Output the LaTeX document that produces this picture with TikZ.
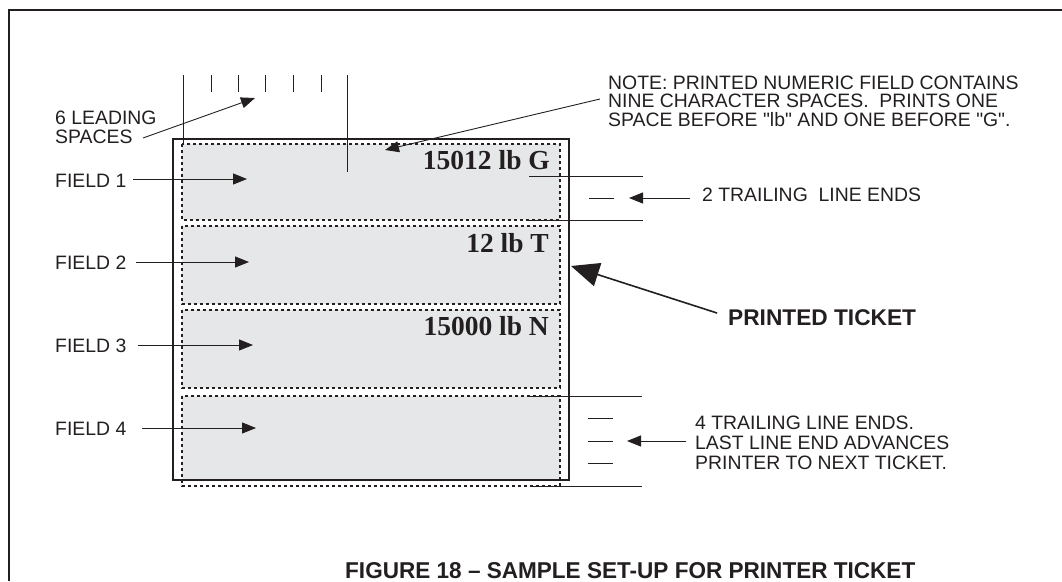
\documentclass[tikz,border=0pt]{standalone}
\usepackage{fontspec}
\usepackage{graphicx}
\setmainfont{Liberation Sans}
\newfontfamily\numfont{Liberation Serif}
\usetikzlibrary{arrows.meta}
\definecolor{ink}{HTML}{231F20}
\definecolor{paper}{HTML}{E6E7E8}
\begin{document}
\begin{tikzpicture}[x=1pt,y=-1pt,
  every node/.style={inner sep=0pt, text=ink},
  lbl/.style={font=\fontsize{19.4}{18.6}\selectfont, align=left},
  lbllead/.style={font=\fontsize{19.4}{19.3}\selectfont, align=left},
  lblwide/.style={font=\fontsize{19.4}{20}\selectfont, align=left},
  num/.style={font=\numfont\bfseries\fontsize{27.5}{30}\selectfont},
  thinline/.style={draw=ink, line width=0.9pt},
  arr/.style={thinline, -{Triangle[length=14pt,width=11pt]}},
  bigarr/.style={draw=ink, line width=1.6pt, -{Triangle[length=28pt,width=24pt]}},
  fieldbox/.style={draw=ink, line width=2.2pt, dash pattern=on 3.3pt off 2.7pt},
  heavy/.style={draw=ink, line width=2pt},
]
\useasboundingbox (0,0) rectangle (1062,581);
% outer frame
\draw[heavy] (9,581) -- (9,10) -- (1062,10);

% ticket and fields
\fill[white] (173,139) rectangle (569,480);
\fill[paper] (182,144) rectangle (560,220);
\fill[paper] (182,226) rectangle (560,304);
\fill[paper] (182,310) rectangle (560,388);
\fill[paper] (182,396) rectangle (560,480);
\draw[fieldbox] (182,144) rectangle (560,220);
\draw[fieldbox] (182,226) rectangle (560,304);
\draw[fieldbox] (182,310) rectangle (560,388);
\draw[fieldbox] (182,396) rectangle (560,486);
\draw[heavy] (173,139) rectangle (569,480);

% leading-space ticks
\foreach \x in {211,238,265,293,321} \draw[thinline] (\x,75) -- (\x,92);
\draw[thinline] (183,75) -- (183,144);
\draw[thinline] (347,75) -- (347,172);

% printed values
\node[num, anchor=base east] (n1) at (550,169) {15012 lb G};
\node[num, anchor=base east] (n2) at (549,252) {12 lb T};
\node[num, anchor=base east] (n3) at (549,335) {15000 lb N};

% left labels
\node[lbllead, anchor=north west] (lead) at (55,110.5) {6 LEADING\\SPACES};
\coordinate (leadfrom) at (143,138);
\coordinate (leadtip) at (255,98);
\draw[arr] (leadfrom) -- (leadtip);

\node[lbl, anchor=west] (f1) at (55,181) {FIELD 1};
\node[lbl, anchor=west] (f2) at (55,263) {FIELD 2};
\node[lbl, anchor=west] (f3) at (55,346) {FIELD 3};
\node[lbl, anchor=west] (f4) at (55,429) {FIELD 4};
\coordinate (f1a) at (133,179); \coordinate (f1b) at (247,179);
\coordinate (f2a) at (136,262); \coordinate (f2b) at (249,262);
\coordinate (f3a) at (138,345); \coordinate (f3b) at (253,345);
\coordinate (f4a) at (142,428); \coordinate (f4b) at (256,428);
\draw[arr] (f1a) -- (f1b);
\draw[arr] (f2a) -- (f2b);
\draw[arr] (f3a) -- (f3b);
\draw[arr] (f4a) -- (f4b);

% note
\node[lbl, anchor=north west] (note) at (608,75.5) {NOTE: PRINTED NUMERIC FIELD CONTAINS\\NINE CHARACTER SPACES.\ \ PRINTS ONE\\SPACE BEFORE \textquotedbl lb\textquotedbl{} AND ONE BEFORE \textquotedbl G\textquotedbl.};
\coordinate (notefrom) at (600,99);
\coordinate (notetip) at (385,150);
\draw[arr] (notefrom) -- (notetip);

% 2 trailing line ends
\draw[thinline] (529,176) -- (643,176);
\draw[thinline] (529,220) -- (643,220);
\draw[thinline] (589,198) -- (614,198);
\node[lbl, anchor=west] (tr2) at (702,195) {2 TRAILING\ \ LINE ENDS};
\coordinate (tr2from) at (690,198);
\coordinate (tr2tip) at (629,198);
\draw[arr] (tr2from) -- (tr2tip);

% printed ticket
\node[font=\bfseries\fontsize{22.7}{24}\selectfont, anchor=west] (pt) at (728,318) {PRINTED TICKET};
\coordinate (ptfrom) at (717,313);
\coordinate (pttip) at (571,266);
\draw[bigarr] (ptfrom) -- (pttip);

% 4 trailing line ends
\draw[thinline] (530,396) -- (642,396);
\draw[thinline] (530,486) -- (642,486);
\foreach \y in {418,441,463} \draw[thinline] (588,\y) -- (613,\y);
\node[lblwide, anchor=north west] (tr4) at (695,416) {4 TRAILING LINE ENDS.\\LAST LINE END ADVANCES\\PRINTER TO NEXT TICKET.};
\coordinate (tr4from) at (686,441);
\coordinate (tr4tip) at (627,441);
\draw[arr] (tr4from) -- (tr4tip);

% title
\node[anchor=base west] (title) at (345,578) {\resizebox{570pt}{16pt}{\bfseries FIGURE 18 -- SAMPLE SET-UP FOR PRINTER TICKET}};
\end{tikzpicture}
\end{document}
